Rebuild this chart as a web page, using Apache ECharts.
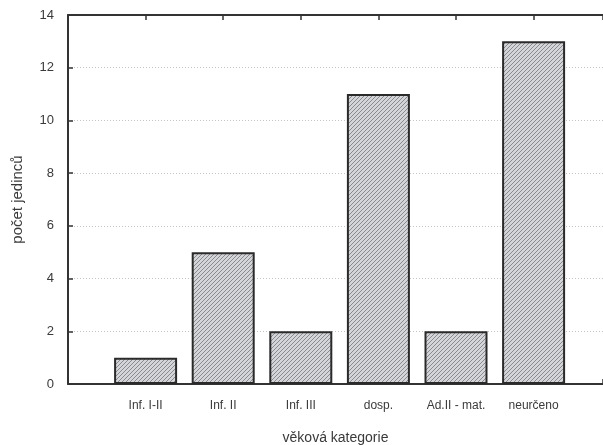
<!DOCTYPE html>
<html><head><meta charset="utf-8">
<script src="https://cdn.jsdelivr.net/npm/echarts@6/dist/echarts.min.js"></script>
<style>html,body{margin:0;padding:0;background:#fff;overflow:hidden}#c{width:603px;height:445px}</style>
</head><body><div id="c"></div>
<script>
const categories = ['Inf. I-II', 'Inf. II', 'Inf. III', 'dosp.', 'Ad.II - mat.', 'neurčeno'];
const counts = [1, 5, 2, 11, 2, 13];
const yTicks = [0, 2, 4, 6, 8, 10, 12, 14];

function hatch() {
  const s = 4, c = document.createElement('canvas');
  c.width = s; c.height = s;
  const g = c.getContext('2d');
  g.fillStyle = '#d4d5d8'; g.fillRect(0, 0, s, s);
  g.strokeStyle = '#8a8a8e'; g.lineWidth = 1;
  g.beginPath();
  g.moveTo(0, s); g.lineTo(s, 0);
  g.moveTo(-1, 1); g.lineTo(1, -1);
  g.moveTo(s - 1, s + 1); g.lineTo(s + 1, s - 1);
  g.stroke();
  return c;
}

const chart = echarts.init(document.getElementById('c'), null, {renderer: 'canvas'});
const xMax = (603 - 68) / 77.6;
const axisCol = '#333';
const txt = '#3a3a3a';
const font = 'Liberation Sans, Arial, sans-serif';
chart.setOption({
  animation: false,
  grid: {left: 68, right: 0, top: 15, bottom: 61, containLabel: false, outerBoundsMode: 'none'},
  xAxis: [{
    type: 'value', min: 0, max: xMax, interval: 1, position: 'bottom',
    axisLine: {lineStyle: {color: axisCol, width: 2}},
    axisTick: {inside: true, length: 5, lineStyle: {color: axisCol, width: 1.5}},
    splitLine: {show: false},
    axisLabel: {margin: 16, color: txt, fontSize: 12, fontFamily: font,
      formatter: v => (Number.isInteger(v) && v >= 1 && v <= categories.length) ? categories[v - 1] : ''},
    name: 'věková kategorie', nameLocation: 'middle', nameGap: 47,
    nameTextStyle: {color: txt, fontSize: 14, fontFamily: font}
  }, {
    type: 'value', min: 0, max: xMax, interval: 1, position: 'top',
    axisLine: {lineStyle: {color: axisCol, width: 2}},
    axisTick: {inside: true, length: 5, lineStyle: {color: axisCol, width: 1.5}},
    splitLine: {show: false}, axisLabel: {show: false}
  }],
  yAxis: {
    type: 'value', min: yTicks[0], max: yTicks[yTicks.length - 1], interval: 2,
    axisLine: {show: true, lineStyle: {color: axisCol, width: 2}},
    axisTick: {show: true, inside: true, length: 5, lineStyle: {color: axisCol, width: 1.5}},
    axisLabel: {margin: 14, color: txt, fontSize: 13, fontFamily: font},
    splitLine: {show: true, lineStyle: {color: '#c4c4c4', type: [1, 2], width: 1}},
    name: 'počet jedinců', nameLocation: 'middle', nameGap: 43,
    nameTextStyle: {color: txt, fontSize: 15, fontFamily: font}
  },
  series: [{
    type: 'bar', xAxisIndex: 0, barWidth: 63,
    data: counts.map((v, i) => [i + 1, v]),
    itemStyle: {color: {image: hatch(), repeat: 'repeat'}, borderColor: '#2a2a2a', borderWidth: 2}
  }]
});
</script></body></html>
